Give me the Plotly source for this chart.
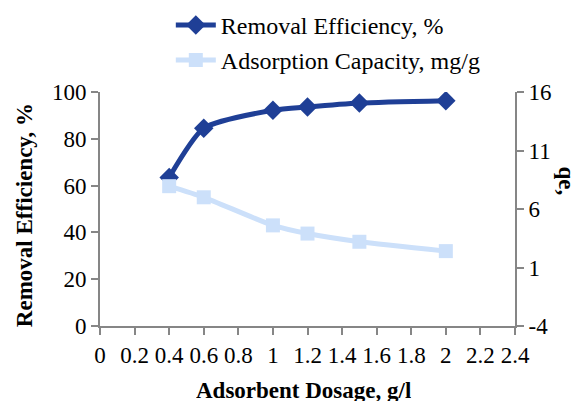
import plotly.graph_objects as go

dosage = [0.4, 0.6, 1.0, 1.2, 1.5, 2.0]
removal_eff = [63.5, 84.5, 92.2, 93.6, 95.3, 96.3]
ads_capacity = [7.95, 7.0, 4.6, 3.9, 3.2, 2.4]

x_ticks = [0, 0.2, 0.4, 0.6, 0.8, 1, 1.2, 1.4, 1.6, 1.8, 2, 2.2, 2.4]
x_tick_labels = ["0", "0.2", "0.4", "0.6", "0.8", "1", "1.2", "1.4", "1.6", "1.8", "2", "2.2", "2.4"]
y_ticks = [0, 20, 40, 60, 80, 100]
y2_ticks = [-4, 1, 6, 11, 16]
y2_tick_labels = ["-4", "1", "6", "11", "16"]

DARK = "#1F3F96"
LIGHT = "#CCE0FA"
AX = "#868686"
FONT = "Liberation Serif"

fig = go.Figure()
fig.add_trace(go.Scatter(
    x=dosage, y=ads_capacity, name="Adsorption Capacity, mg/g", yaxis="y2",
    mode="lines+markers", line=dict(color=LIGHT, width=5, shape="spline", smoothing=0.6),
    marker=dict(symbol="square", size=14, color=LIGHT), legendrank=2, legendgroup="b"))
fig.add_trace(go.Scatter(
    x=dosage, y=removal_eff, name="Removal Efficiency, %",
    mode="lines+markers", line=dict(color=DARK, width=5, shape="spline", smoothing=0.6),
    marker=dict(symbol="diamond", size=15, color=DARK), legendrank=1, legendgroup="a"))

axis_common = dict(showgrid=False, zeroline=False, showline=True, linecolor=AX, linewidth=2,
                   ticks="outside", tickcolor=AX, ticklen=7, tickwidth=1.5, automargin=False,
                   tickfont=dict(family=FONT, size=23, color="black"))

fig.update_layout(
    width=581, height=403,
    margin=dict(l=100, r=66, t=92, b=77, autoexpand=False),
    paper_bgcolor="white", plot_bgcolor="white",
    font=dict(family=FONT, size=23, color="black"),
    xaxis=dict(range=[0, 2.4], tickmode="array", tickvals=x_ticks, ticktext=x_tick_labels,
               **axis_common),
    yaxis=dict(range=[0, 100], tickmode="array", tickvals=y_ticks, **axis_common),
    yaxis2=dict(range=[-4, 16], tickmode="array", tickvals=y2_ticks, ticktext=y2_tick_labels,
                overlaying="y", side="right", **axis_common),
    showlegend=True,
    legend=dict(xref="container", yref="container", x=0.294, xanchor="left", y=0.993, yanchor="top",
                traceorder="grouped", tracegroupgap=1,
                font=dict(family=FONT, size=24, color="black"),
                bgcolor="rgba(0,0,0,0)", itemwidth=40),
    annotations=[
        dict(text="<b>qe,</b>", xref="paper", yref="paper", x=1.124, y=0.62,
             xanchor="center", yanchor="middle",
             showarrow=False, textangle=90, font=dict(family=FONT, size=23, color="black")),
        dict(text="<b>Removal Efficiency, %</b>", xref="paper", yref="paper", x=-0.183, y=0.474,
             xanchor="center", yanchor="middle",
             showarrow=False, textangle=-90, font=dict(family=FONT, size=23, color="black")),
        dict(text="<b>Adsorbent Dosage, g/l</b>", xref="paper", yref="paper", x=0.49, y=-0.275,
             xanchor="center", yanchor="middle", height=22, borderpad=0,
             showarrow=False, font=dict(family=FONT, size=23, color="black")),
    ],
)

fig.write_html("out.html", config={"displayModeBar": False},
               post_script="document.body.style.margin='0';")
